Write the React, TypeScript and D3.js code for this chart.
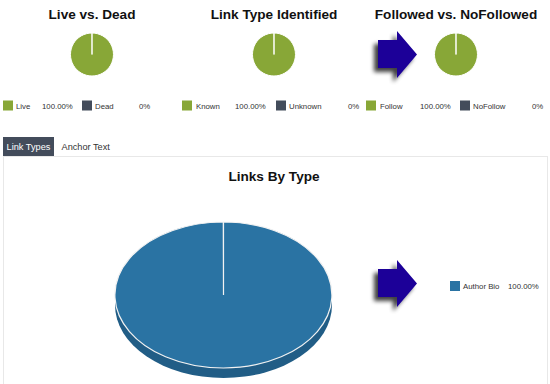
import React, { useEffect, useRef } from 'react';
import * as d3 from 'd3';

// small pies on top
const topTitles = ['Live vs. Dead', 'Link Type Identified', 'Followed vs. NoFollowed'];
const topLabels = [
  ['Live', 'Dead'],
  ['Known', 'Unknown'],
  ['Follow', 'NoFollow'],
];
const topValues = [
  [100, 0],
  [100, 0],
  [100, 0],
];

// big pie
const typeTitle = 'Links By Type';
const typeLabels = ['Author Bio'];
const typeValues = [100];

const tabLabels = ['Link Types', 'Anchor Text'];

const GREEN = '#88a737';
const SLATE = '#434c5b';
const BLUE = '#2a73a3';
const BLUE_SIDE = '#215d86';
const ARROW = '#1c0098';
const LEGEND_FONT = '"Liberation Sans", Arial, sans-serif';

function pct(v: number, total: number) {
  const p = total ? (v / total) * 100 : 0;
  return p === 0 ? '0%' : d3.format('.2f')(p) + '%';
}

function App() {
  const ref = useRef<SVGSVGElement | null>(null);

  useEffect(() => {
    const width = 550;
    const height = 384;
    const svg = d3.select(ref.current);
    svg.selectAll('*').remove();
    svg.attr('width', width).attr('height', height);

    const defs = svg.append('defs');
    const f = defs.append('filter').attr('id', 'shadow')
      .attr('x', '-50%').attr('y', '-50%').attr('width', '200%').attr('height', '200%');
    f.append('feGaussianBlur').attr('in', 'SourceAlpha').attr('stdDeviation', 2.2);
    f.append('feOffset').attr('dx', -4).attr('dy', 4).attr('result', 'off');
    f.append('feComponentTransfer').append('feFuncA').attr('type', 'linear').attr('slope', 0.75);
    const m = f.append('feMerge');
    m.append('feMergeNode');
    m.append('feMergeNode').attr('in', 'SourceGraphic');

    const pie = d3.pie<number>().sort(null).value(d => d);
    const colX = d3.scaleLinear().domain([0, 1]).range([92, 274]);

    // legend column offsets inside each group (square, label, value, square, label, value)
    const legendLayout = [
      [3, 16, 42, 82, 95, 139],
      [182, 196, 235, 276, 289, 348],
      [366, 380, 420, 460, 473, 532],
    ];
    const legendColors = [GREEN, SLATE];

    const small = d3.arc<d3.PieArcDatum<number>>()
      .innerRadius(0)
      .outerRadius(21.5)
      .startAngle(d => d.startAngle)
      .endAngle(d => Math.min(d.endAngle, d.startAngle + Math.PI * 2 - 0.002));

    topTitles.forEach((title, i) => {
      const cx = colX(i);
      svg.append('text')
        .attr('x', cx).attr('y', 19)
        .attr('text-anchor', 'middle')
        .attr('font-family', '"Liberation Sans", Arial, sans-serif')
        .attr('font-weight', 'bold')
        .attr('font-size', 13.6)
        .attr('fill', '#111')
        .text(title);

      const g = svg.append('g').attr('transform', `translate(${cx},54.5)`);
      g.selectAll('path')
        .data(pie(topValues[i]).filter(d => d.value > 0))
        .enter()
        .append('path')
        .attr('d', small)
        .attr('fill', (d) => legendColors[d.index])
        .attr('stroke', '#fff')
        .attr('stroke-width', 1);

      const total = d3.sum(topValues[i]);
      const lay = legendLayout[i];
      topLabels[i].forEach((lab, j) => {
        svg.append('rect')
          .attr('x', lay[j * 3]).attr('y', 100.5)
          .attr('width', 10).attr('height', 10)
          .attr('fill', legendColors[j]);
        svg.append('text')
          .attr('x', lay[j * 3 + 1]).attr('y', 108.5)
          .attr('font-family', LEGEND_FONT)
          .attr('font-size', 7.8)
          .attr('fill', '#333')
          .text(lab);
        svg.append('text')
          .attr('x', lay[j * 3 + 2]).attr('y', 108.5)
          .attr('font-family', LEGEND_FONT)
          .attr('font-size', 7.8)
          .attr('fill', '#333')
          .text(pct(topValues[i][j], total));
      });
    });

    // tabs + panel
    svg.append('rect')
      .attr('x', 3.5).attr('y', 156.5).attr('width', 544).attr('height', 240)
      .attr('fill', '#fff').attr('stroke', '#e8e8e8');
    svg.append('rect')
      .attr('x', 3).attr('y', 137).attr('width', 51).attr('height', 19)
      .attr('fill', SLATE);
    svg.append('text')
      .attr('x', 28.5).attr('y', 149.5)
      .attr('text-anchor', 'middle')
      .attr('font-family', '"Liberation Sans", Arial, sans-serif')
      .attr('font-size', 9.2)
      .attr('fill', '#fff')
      .text(tabLabels[0]);
    svg.append('text')
      .attr('x', 61.5).attr('y', 149.5)
      .attr('font-family', '"Liberation Sans", Arial, sans-serif')
      .attr('font-size', 9.2)
      .attr('fill', '#333')
      .text(tabLabels[1]);

    // arrows
    const arrowPath = 'M-39,-14.5 L-20,-14.5 L-20,-23.5 L0,0 L-20,23.5 L-20,13.5 L-39,13.5 Z';
    [[417, 54.5], [417, 283.5]].forEach(([x, y]) => {
      svg.append('path')
        .attr('d', arrowPath)
        .attr('transform', `translate(${x},${y})`)
        .attr('fill', ARROW)
        .attr('filter', 'url(#shadow)');
    });

    // big 3d pie
    svg.append('text')
      .attr('x', 274).attr('y', 181)
      .attr('text-anchor', 'middle')
      .attr('font-family', '"Liberation Sans", Arial, sans-serif')
      .attr('font-weight', 'bold')
      .attr('font-size', 13.6)
      .attr('fill', '#111')
      .text(typeTitle);

    const rx = 108.5;
    const ry = 73;
    const depth = 10;
    const big = svg.append('g').attr('transform', 'translate(223.5,295)');
    big.append('ellipse')
      .attr('cx', 0).attr('cy', depth).attr('rx', rx).attr('ry', ry)
      .attr('fill', BLUE_SIDE);
    big.append('rect')
      .attr('x', -rx).attr('y', 0).attr('width', rx * 2).attr('height', depth)
      .attr('fill', BLUE_SIDE);

    const bigArc = d3.arc<d3.PieArcDatum<number>>()
      .innerRadius(0)
      .outerRadius(rx)
      .startAngle(d => d.startAngle)
      .endAngle(d => Math.min(d.endAngle, d.startAngle + Math.PI * 2 - 0.002));
    big.append('g')
      .attr('transform', `scale(1,${ry / rx})`)
      .selectAll('path')
      .data(pie(typeValues).filter(d => d.value > 0))
      .enter()
      .append('path')
      .attr('d', bigArc)
      .attr('fill', BLUE)
      .attr('stroke', '#f2f2f2')
      .attr('stroke-width', 1.2)
      .attr('vector-effect', 'non-scaling-stroke');

    const typeTotal = d3.sum(typeValues);
    const legY = d3.scaleBand<string>().domain(typeLabels).range([281, 291]);
    typeLabels.forEach((lab, i) => {
      const y = legY(lab) ?? 281;
      svg.append('rect')
        .attr('x', 450).attr('y', y).attr('width', 10).attr('height', 10)
        .attr('fill', BLUE);
      svg.append('text')
        .attr('x', 463).attr('y', y + 8)
        .attr('font-family', LEGEND_FONT)
        .attr('font-size', 7.8)
        .attr('fill', '#333')
        .text(lab);
      svg.append('text')
        .attr('x', 508).attr('y', y + 8)
        .attr('font-family', LEGEND_FONT)
        .attr('font-size', 7.8)
        .attr('fill', '#333')
        .text(pct(typeValues[i], typeTotal));
    });
  }, []);

  return (
    <svg ref={ref} style={{ position: 'absolute', left: 0, top: 0, background: '#fff' }} />
  );
}

export default App;
